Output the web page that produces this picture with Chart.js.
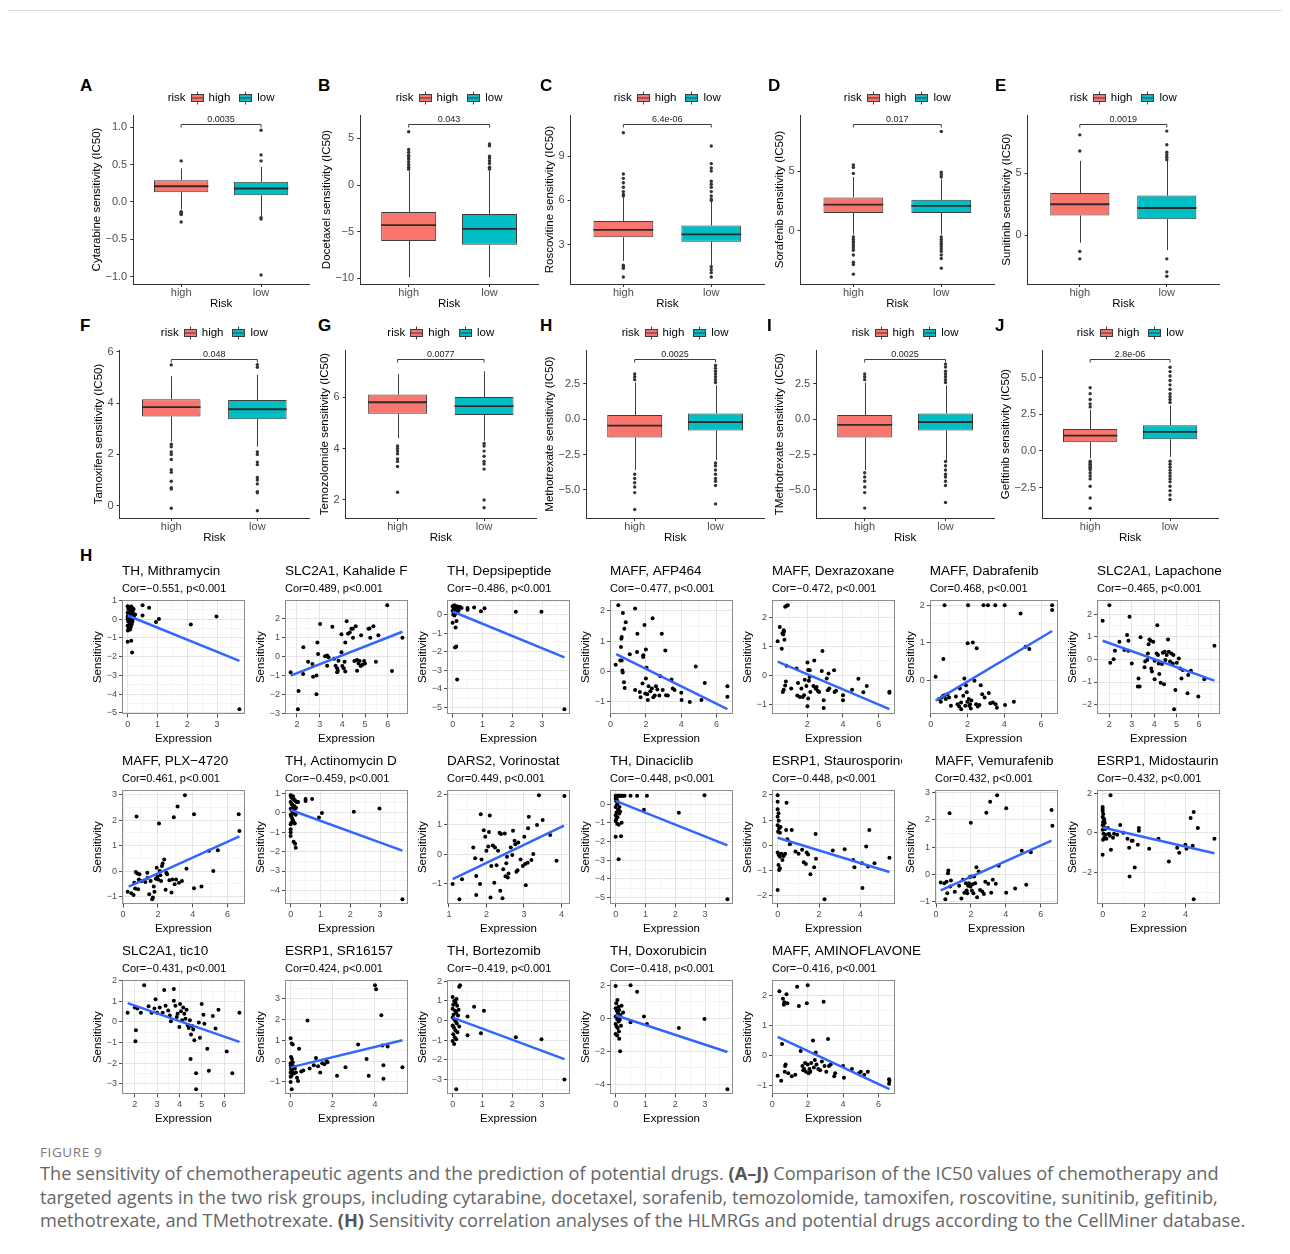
<!DOCTYPE html>
<html>
<head>
<meta charset="utf-8">
<script src="https://cdn.jsdelivr.net/npm/chart.js@4.4.1/dist/chart.umd.min.js"></script>
<style>
  html, body { margin: 0; padding: 0; background: #fff; }
  body { position: relative; width: 1290px; height: 1254px; overflow: hidden;
         font-family: "Liberation Sans", Arial, Helvetica, sans-serif; }
  canvas { position: absolute; }
  .rule { position: absolute; left: 8px; top: 10px; width: 1274px; height: 1px; background: #dcdcdc; }
  .tag { position: absolute; font-weight: bold; font-size: 17px; line-height: 17px; color: #000; }
  #figno { position: absolute; left: 40px; top: 1143px; font-family: "Open Sans", sans-serif;
           font-size: 13.5px; letter-spacing: 0.6px; color: #7a7a7a; }
  #caption { position: absolute; left: 40px; top: 1162px; font-family: "Open Sans", sans-serif;
             font-size: 18.2px; line-height: 23.5px; color: #666; white-space: nowrap; }
  #caption b { color: #555; font-weight: 700; }
</style>
</head>
<body>
<div class="rule"></div>
<div id="figno">FIGURE 9</div>
<div id="caption">The sensitivity of chemotherapeutic agents and the prediction of potential drugs. <b>(A–J)</b> Comparison of the IC50 values of chemotherapy and<br>targeted agents in the two risk groups, including cytarabine, docetaxel, sorafenib, temozolomide, tamoxifen, roscovitine, sunitinib, gefitinib,<br>methotrexate, and TMethotrexate. <b>(H)</b> Sensitivity correlation analyses of the HLMRGs and potential drugs according to the CellMiner database.</div>
<script>
// ---------- IC50 box plots (panels A–J) ----------
const boxLetters = ['A', 'B', 'C', 'D', 'E', 'F', 'G', 'H', 'I', 'J'];
const boxDrugs = ['Cytarabine', 'Docetaxel', 'Roscovitine', 'Sorafenib', 'Sunitinib',
                  'Tamoxifen', 'Temozolomide', 'Methotrexate', 'TMethotrexate', 'Gefitinib'];
const riskGroups = ['high', 'low'];
const pValues = ['0.0035', '0.043', '6.4e-06', '0.017', '0.0019', '0.048', '0.0077', '0.0025', '0.0025', '2.8e-06'];

// [lower whisker, Q1, median, Q3, upper whisker]
const highStats = [
  [-0.10, 0.13, 0.21, 0.29, 0.45], [-9.9, -6.0, -4.3, -2.9, 1.5], [1.9, 3.5, 4.0, 4.6, 6.2],
  [-0.3, 1.5, 2.2, 2.8, 4.5], [-0.6, 1.6, 2.5, 3.4, 6.0], [2.5, 3.48, 3.84, 4.15, 5.05],
  [4.4, 5.35, 5.8, 6.1, 6.9], [-3.6, -1.3, -0.45, 0.3, 2.6], [-3.6, -1.3, -0.4, 0.3, 2.6],
  [-0.5, 0.6, 1.05, 1.5, 2.8]
];
const lowStats = [
  [-0.19, 0.09, 0.18, 0.27, 0.47], [-9.9, -6.4, -4.7, -3.1, 1.5], [1.6, 3.2, 3.7, 4.3, 5.9],
  [-0.3, 1.5, 2.1, 2.6, 4.3], [-1.2, 1.3, 2.2, 3.2, 6.0], [2.3, 3.37, 3.76, 4.12, 5.1],
  [4.3, 5.3, 5.65, 6.0, 7.0], [-2.9, -0.8, -0.2, 0.4, 2.4], [-2.9, -0.8, -0.2, 0.4, 2.4],
  [-0.4, 0.8, 1.3, 1.75, 3.1]
];
const highOutliers = [
  [0.55, -0.13, -0.14, -0.15, -0.16, -0.17, -0.27],
  [1.7, 1.9, 2.2, 2.5, 2.8, 3.0, 3.2, 3.5, 3.8, 5.7],
  [6.3, 6.4, 6.6, 6.9, 7.2, 7.5, 7.8, 10.6, 1.6, 1.5, 1.4, 0.8],
  [4.8, 5.3, 5.5, -0.5, -0.7, -0.9, -1.0, -1.2, -1.4, -1.6, -2.0, -2.6, -2.8, -3.6],
  [6.8, 8.1, -1.3, -1.9],
  [5.49, 2.4, 2.3, 2.1, 2.0, 1.8, 1.4, 1.3, 0.95, 0.7, 0.65, -0.1],
  [4.1, 4.0, 3.9, 3.8, 3.6, 3.5, 3.3, 2.3],
  [2.8, 3.0, 3.2, -3.9, -4.2, -4.5, -4.8, -5.2, -6.4],
  [2.8, 3.0, 3.2, -3.8, -4.1, -4.4, -4.8, -5.2, -6.3],
  [3.0, 3.2, 3.5, 3.9, 4.3, -0.7, -0.8, -0.9, -1.0, -1.1, -1.2, -1.3, -1.5, -1.7, -1.9, -2.4, -3.2, -3.9]
];
const lowOutliers = [
  [0.55, 0.63, 0.96, -0.21, -0.23, -0.98],
  [1.7, 1.9, 2.3, 2.6, 2.9, 3.1, 4.2, 4.4],
  [6.0, 6.1, 6.3, 6.6, 6.9, 7.1, 7.3, 8.0, 8.2, 8.5, 9.7, 1.5, 1.3, 1.1, 0.8],
  [4.5, 4.7, 4.9, 8.3, -0.5, -0.7, -0.9, -1.1, -1.3, -1.5, -1.7, -2.0, -2.3, -3.1],
  [6.1, 6.3, 6.5, 6.7, 7.3, 8.4, -1.9, -2.95, -3.3],
  [5.4, 5.5, 2.1, 2.0, 1.7, 1.6, 1.1, 1.0, 0.85, 0.55, 0.5, -0.2],
  [4.2, 4.1, 3.9, 3.7, 3.5, 3.4, 3.2, 2.0, 1.7],
  [2.6, 2.8, 3.0, 3.2, 3.4, 3.6, 3.8, -3.1, -3.3, -3.6, -3.9, -4.2, -4.4, -4.7, -6.0],
  [2.6, 2.8, 3.0, 3.2, 3.4, 3.7, 3.9, -3.0, -3.3, -3.6, -3.9, -4.1, -4.4, -4.7, -5.9],
  [3.3, 3.5, 3.7, 3.9, 4.2, 4.5, 4.8, 5.1, 5.4, 5.7, -0.7, -0.9, -1.1, -1.3, -1.5, -1.7, -1.9, -2.1, -2.4, -2.7, -3.0, -3.3]
];
const boxYMin = [-1.10, -10.6, 0.33, -4.42, -3.93, -0.48, 1.3, -7.0, -7.0, -4.56];
const boxYMax = [1.165, 7.5, 11.8, 9.67, 9.70, 6.07, 7.83, 4.9, 4.9, 6.87];
const boxYStep = [0.5, 5, 3, 5, 5, 2, 2, 2.5, 2.5, 2.5];

// ---------- CellMiner correlation scatter plots ----------
const corrTitles = ['TH, Mithramycin', 'SLC2A1, Kahalide F', 'TH, Depsipeptide', 'MAFF, AFP464',
  'MAFF, Dexrazoxane', 'MAFF, Dabrafenib', 'SLC2A1, Lapachone', 'MAFF, PLX\u22124720',
  'TH, Actinomycin D', 'DARS2, Vorinostat', 'TH, Dinaciclib', 'ESRP1, Staurosporine',
  'MAFF, Vemurafenib', 'ESRP1, Midostaurin', 'SLC2A1, tic10', 'ESRP1, SR16157',
  'TH, Bortezomib', 'TH, Doxorubicin', 'MAFF, AMINOFLAVONE'];
const corrValues = [-0.551, 0.489, -0.486, -0.477, -0.472, 0.468, -0.465, 0.461, -0.459, 0.449,
  -0.448, -0.448, 0.432, -0.432, -0.431, 0.424, -0.419, -0.418, -0.416];
const xSteps = [1, 1, 1, 2, 2, 2, 1, 2, 1, 1, 1, 2, 2, 2, 1, 2, 1, 1, 2];
const ySteps = [1, 1, 1, 1, 1, 1, 1, 1, 1, 1, 1, 1, 1, 2, 1, 1, 1, 2, 1];
// fitted regression line end points [x0, y0, x1, y1]
const fitLines = [
  [0, 0.2, 3.75, -2.22], [1.72, -0.99, 6.65, 1.31], [0, 0.16, 3.75, -2.31], [0.32, 0.58, 6.61, -1.24],
  [0.34, 0.48, 6.6, -1.15], [0.27, -0.55, 6.6, 1.31], [1.7, 0.82, 6.69, -0.94], [0.32, -0.61, 6.68, 1.37],
  [0, 0.14, 3.75, -1.95], [1.1, -0.84, 4.07, 0.95], [0, 0.18, 3.75, -2.21], [0, 0.3, 5.39, -1.06],
  [0.26, -0.58, 6.62, 1.24], [0, 0.27, 5.4, -1.03], [1.68, 0.92, 6.69, -0.97], [0, -0.3, 5.3, 1.0],
  [0, 0.15, 3.75, -1.97], [0, 0.18, 3.75, -2.05], [0.3, 0.62, 6.62, -1.13]
];
// (expression, sensitivity) pairs per panel
const corrPoints = [
  [[0,0.7],[0.02,0.55],[0.05,0.65],[0.08,0.6],[0.1,0.45],[0.12,0.68],[0.15,0.62],[0.18,0.5],[0.2,0.55],[0,0.35],[0.03,0.3],[0.06,0.2],[0.09,0.25],[0.11,0.1],[0.14,0.3],[0.17,0.35],[0.22,0.2],[0.25,0.25],[0,0],[0.02,-0.1],[0.04,0.05],[0.07,-0.2],[0.1,-0.05],[0.13,0],[0.16,-0.1],[0.19,0.05],[0,-0.35],[0.03,-0.45],[0.05,-0.3],[0.08,-0.55],[0.11,-0.4],[0.14,-0.25],[0.01,-0.6],[0.06,-0.15],[0.09,0.12],[0,0.15],[0,-1.2],[0.12,-1.15],[0.15,-1.78],[0.5,0.75],[0.5,0.2],[0.72,0.62],[0.95,-0.15],[1.05,0.02],[2.12,-0.28],[2.98,0.15],[3.75,-4.8]],
  [[1.72,-0.82],[2.07,-1.79],[2.04,-2.75],[2.27,-0.9],[2.28,0.5],[2.49,-0.26],[2.68,-0.38],[2.71,-1.05],[2.86,-0.98],[2.86,-1.97],[2.9,0.75],[2.93,0.14],[3.02,1.72],[3.24,0.03],[3.33,0.07],[3.33,-0.47],[3.39,-0.03],[3.56,1.57],[3.64,-0.1],[3.7,-0.47],[3.77,-0.61],[3.77,-0.82],[3.83,-0.21],[3.8,-0.73],[3.96,1.18],[3.96,0.24],[4.0,-0.49],[4.06,-0.61],[4.1,-0.26],[4.13,0.75],[4.13,-0.78],[4.19,1.86],[4.25,1.2],[4.33,1.27],[4.4,1.46],[4.46,1.46],[4.47,0.99],[4.53,-0.23],[4.59,1.6],[4.65,-0.17],[4.65,-0.73],[4.71,-0.35],[4.76,-0.23],[4.83,1.13],[4.81,-0.49],[4.89,-0.42],[4.96,-0.23],[5.0,-0.35],[5.15,1.46],[5.2,1.48],[5.23,0.99],[5.37,1.6],[5.48,-0.26],[5.59,1.13],[6.19,-0.75],[5.98,2.7],[6.65,0.99]],
  [[0,0.45],[0.03,0.35],[0.06,0.5],[0.09,0.4],[0.12,0.3],[0.15,0.45],[0.18,0.35],[0.21,0.4],[0,0.2],[0.04,0.1],[0.08,0.25],[0.11,0.05],[0.14,0.15],[0.02,0],[0.06,-0.05],[0.1,0.3],[0.2,0.2],[0.25,0.4],[0.3,0.35],[0,-0.45],[0.1,-0.7],[0.13,-0.35],[0.08,-1.78],[0.12,-1.72],[0.15,-3.5],[0.5,0.25],[0.5,0.35],[0.72,0.38],[0.95,0.18],[1.07,0.33],[2.12,0.15],[2.98,0.15],[3.75,-5.1]],
  [[0.44,2.19],[0.29,0.23],[0.7,1.93],[0.59,0.81],[0.61,1.08],[0.63,1.14],[0.55,0.37],[0.63,0.37],[0.67,0.04],[0.69,-0.03],[0.76,-0.35],[0.8,-0.54],[0.78,1.41],[0.86,1.63],[1.09,0.57],[1.39,-0.61],[1.39,2.08],[1.5,0.65],[1.52,1.25],[1.66,-0.67],[1.7,-0.85],[1.81,-0.39],[1.85,0.54],[1.85,0.48],[1.92,1.54],[1.96,-0.72],[2.0,0.73],[2.0,-0.23],[2.04,0.13],[2.08,-0.75],[2.11,-0.94],[2.15,-0.48],[2.25,-0.65],[2.34,-0.56],[2.38,1.76],[2.42,-0.85],[2.5,-0.79],[2.57,-0.48],[2.65,-0.59],[2.76,-0.79],[2.82,-0.15],[2.9,1.25],[2.95,-0.61],[3.1,0.7],[3.14,-0.78],[3.24,-0.79],[3.45,-0.26],[3.52,-0.56],[3.62,-0.61],[4.0,-0.7],[4.02,-0.94],[4.48,-1.0],[4.82,0.17],[5.14,-0.94],[5.33,-0.38],[6.61,-0.48],[6.61,-0.83]],
  [[0.34,1.18],[0.46,1.66],[0.57,0.92],[0.61,1.45],[0.65,1.41],[0.68,1.55],[0.72,1.23],[0.7,1.5],[0.76,2.36],[0.84,2.39],[0.91,2.41],[0.63,-0.56],[0.68,-0.48],[0.76,-0.34],[0.8,-0.2],[0.84,0.34],[1.1,-0.44],[1.4,0.24],[1.48,-0.25],[1.44,-0.68],[1.58,-0.73],[1.67,-0.44],[1.75,-0.73],[1.82,-0.67],[1.86,-0.14],[1.95,-0.36],[2.01,0.45],[2.01,-1.05],[2.05,0.19],[2.05,-0.78],[2.09,-0.18],[2.14,0.18],[2.13,-0.05],[2.17,-0.56],[2.34,-0.36],[2.39,0.52],[2.47,-0.44],[2.52,-0.39],[2.58,-0.52],[2.66,-0.56],[2.81,0.16],[2.85,0.84],[2.92,-0.84],[2.92,-1.11],[3.09,-0.1],[3.19,0.07],[3.15,-0.5],[3.23,-0.44],[3.5,0.18],[3.53,-0.56],[3.61,-0.52],[4.0,-0.67],[4.0,-0.84],[4.51,-0.48],[4.86,-0.11],[5.14,-0.57],[5.33,-0.36],[6.6,-0.55],[6.6,-0.59]],
  [[0.27,0.09],[0.6,-0.47],[0.68,-0.42],[0.77,-0.41],[0.69,0.56],[0.75,2.0],[0.82,-0.51],[0.91,-0.38],[0.46,-0.51],[0.55,-0.58],[1.0,-0.47],[1.1,-0.69],[1.37,-0.44],[1.46,-0.65],[1.55,-0.71],[1.59,-0.23],[1.65,-0.6],[1.66,-0.78],[1.77,-0.42],[1.83,0.04],[1.88,-0.69],[1.92,-0.14],[1.96,-0.33],[1.99,-0.58],[2.01,0.98],[2.03,2.0],[2.07,-0.51],[2.1,-0.69],[2.14,-0.65],[2.18,-0.76],[2.21,-0.55],[2.29,1.0],[2.38,-0.02],[2.47,-0.65],[2.5,0.85],[2.56,-0.71],[2.65,-0.67],[2.72,-0.14],[2.8,-0.38],[2.87,2.0],[2.93,-0.47],[3.11,2.0],[3.16,-0.35],[3.24,-0.62],[3.38,-0.6],[3.51,2.0],[3.53,-0.65],[3.6,-0.74],[4.02,2.0],[4.04,-0.67],[4.52,-0.58],[4.88,1.78],[5.16,0.89],[5.36,0.83],[6.6,2.0],[6.6,1.87]],
  [[1.7,1.7],[2.0,2.39],[2.04,-0.15],[2.19,0.0],[2.25,0.38],[2.45,0.78],[2.67,0.41],[2.79,1.07],[2.85,0.82],[2.85,0.38],[2.9,1.88],[3.0,-0.18],[3.27,-1.2],[3.35,-1.2],[3.3,-0.84],[3.39,0.97],[3.57,-0.35],[3.6,-0.1],[3.69,-0.03],[3.72,0.26],[3.75,0.67],[3.79,0.88],[3.84,0.82],[3.87,-0.4],[3.9,-0.54],[3.96,0.78],[4.02,-0.06],[4.02,-0.88],[4.11,0.26],[4.14,1.51],[4.17,0.19],[4.2,-0.18],[4.23,-0.65],[4.29,-1.03],[4.35,-0.21],[4.39,0.29],[4.44,-1.1],[4.47,0.34],[4.5,-0.03],[4.56,0.19],[4.62,0.88],[4.65,0.34],[4.71,-0.1],[4.77,0.26],[4.83,-0.18],[4.86,0.19],[4.89,-2.2],[4.95,-1.35],[5.01,-0.15],[5.1,0.04],[5.16,-0.4],[5.22,-0.84],[5.28,-0.47],[5.49,-1.5],[5.52,-0.69],[5.64,-0.5],[5.97,-1.64],[6.24,-0.88],[6.69,0.6]],
  [[0.26,-0.82],[0.47,-0.88],[0.6,-0.94],[0.64,-0.46],[0.69,-0.69],[0.73,-0.04],[0.77,2.15],[0.81,-0.1],[0.86,-0.72],[0.9,-0.33],[0.94,-0.13],[1.07,-0.39],[1.28,-0.43],[1.39,-0.07],[1.41,-0.26],[1.5,-0.91],[1.58,-0.39],[1.67,-1.11],[1.71,-1.04],[1.76,-0.61],[1.8,-0.82],[1.88,-0.3],[1.93,0.13],[1.97,-0.22],[2.01,-0.33],[2.06,1.87],[2.1,0.0],[2.14,-0.17],[2.18,-0.39],[2.23,0.2],[2.27,0.3],[2.36,0.46],[2.44,-0.74],[2.48,-0.07],[2.53,-0.13],[2.66,-0.36],[2.78,-0.85],[2.83,-0.33],[2.91,2.12],[2.96,-0.52],[3.04,-0.33],[3.13,2.54],[3.21,-0.46],[3.38,-0.39],[3.55,2.99],[3.64,0.09],[4.07,2.24],[4.07,-0.68],[4.5,-0.61],[4.93,0.8],[5.18,0.0],[5.44,0.82],[6.64,2.24],[6.68,1.58]],
  [[0,0.9],[0.02,0.8],[0.05,0.75],[0.08,0.85],[0.1,0.7],[0.13,0.65],[0.16,0.6],[0.2,0.55],[0,0.55],[0.03,0.45],[0.06,0.4],[0.09,0.3],[0.12,0.35],[0.15,0.2],[0.18,0.25],[0,0.2],[0.04,0.1],[0.07,0.05],[0.1,0],[0.13,-0.05],[0.17,-0.1],[0,-0.1],[0.02,-0.2],[0.05,-0.3],[0.08,-0.4],[0.11,-0.5],[0.14,-0.55],[0,-0.6],[0.03,-0.5],[0.06,0.15],[0,-0.85],[0,-1.0],[0,-1.2],[0.1,-1.5],[0.15,-1.6],[0.17,-1.8],[0.25,0.55],[0.5,0.6],[0.5,0.7],[0.72,0.7],[0.95,-0.25],[1.05,-0.02],[2.12,0.05],[2.98,0.22],[3.75,-4.45]],
  [[1.1,-1.0],[1.28,-1.51],[1.35,-0.84],[1.65,0.22],[1.7,-0.14],[1.73,-0.73],[1.73,-1.37],[1.83,-1.0],[1.85,1.33],[1.87,-0.18],[1.93,0.8],[1.97,0.58],[2.0,0.11],[2.05,0.25],[2.07,0.74],[2.09,1.29],[2.11,-1.45],[2.13,-0.4],[2.17,0.29],[2.21,-0.96],[2.23,0.22],[2.27,-0.37],[2.31,0.11],[2.35,0.71],[2.39,0.67],[2.37,-1.23],[2.43,-1.48],[2.45,-0.51],[2.49,0.69],[2.51,-0.74],[2.53,-0.31],[2.55,-0.09],[2.57,-0.78],[2.59,-0.65],[2.65,0.22],[2.69,-0.03],[2.71,0.78],[2.75,0.45],[2.77,0.33],[2.8,-0.59],[2.83,-0.54],[2.85,0.39],[2.91,-0.18],[2.97,-0.4],[3.01,0.58],[3.03,-0.33],[3.05,-1.04],[3.1,-0.29],[3.11,0.86],[3.13,1.25],[3.2,-0.2],[3.25,0.0],[3.35,0.97],[3.4,1.97],[3.5,1.14],[3.7,0.64],[3.87,-0.22],[4.08,1.94]],
  [[0,0.45],[0.03,0.45],[0.06,0.45],[0.09,0.45],[0.12,0.45],[0.15,0.45],[0.18,0.45],[0.21,0.45],[0.25,0.45],[0.3,0.45],[0.5,0.45],[0.72,0.45],[1.05,0.45],[0,0.3],[0.02,0.15],[0.05,0],[0,-0.15],[0.08,-0.3],[0.03,-0.45],[0.1,-0.35],[0.12,-0.5],[0,-0.6],[0.06,-0.7],[0.15,-0.4],[0,-0.9],[0.05,-1.05],[0.1,-1.1],[0.2,-1.0],[0.04,0.25],[0.08,0.1],[0.13,-0.15],[0.02,-0.8],[0,-1.75],[0.18,-1.72],[0.1,-2.95],[0.95,-0.3],[2.12,-0.46],[2.98,0.48],[3.75,-5.1]],
  [[0,1.99],[0,1.73],[0,1.43],[0.04,1.27],[0,1.13],[0.05,0.98],[0,0.8],[0.07,0.67],[0.02,0.54],[0.11,0.5],[0.14,0.73],[0,-0.29],[0.05,-0.38],[0.11,-0.45],[0.18,-0.34],[0.04,-0.78],[0.11,-0.91],[0.07,-0.98],[0,-1.77],[0.23,-0.58],[0.29,-0.42],[0.36,-0.34],[0.41,0.61],[0.43,1.69],[0.47,0.24],[0.59,0.04],[0.68,0.61],[0.86,-0.25],[1.01,-0.34],[1.18,-0.18],[1.26,-0.67],[1.36,-0.74],[1.4,-0.29],[1.47,-0.36],[1.58,-1.15],[1.76,-0.87],[1.83,0.45],[1.85,-0.53],[2.26,-2.14],[2.66,-0.21],[3.23,-0.16],[3.64,-0.58],[3.7,-0.87],[4.06,-0.71],[4.09,-1.7],[4.27,-0.05],[4.36,-0.84],[4.42,0.61],[4.67,-0.71],[5.39,-0.49]],
  [[0.26,-0.29],[0.47,-0.32],[0.53,-0.9],[0.6,-0.26],[0.64,-0.68],[0.68,0.05],[0.7,0.15],[0.77,2.24],[0.81,-0.44],[0.85,-0.22],[1.07,-0.63],[1.32,-0.41],[1.45,-0.87],[1.54,-0.19],[1.62,-0.66],[1.71,-0.32],[1.75,-0.58],[1.79,-0.68],[1.84,-0.41],[1.88,-0.32],[1.92,-0.1],[1.97,-0.44],[1.99,1.89],[2.03,-0.07],[2.05,-0.58],[2.09,-0.35],[2.14,-0.68],[2.18,-0.07],[2.24,-0.32],[2.31,0.27],[2.35,-0.83],[2.44,0.11],[2.52,-0.56],[2.65,-0.62],[2.74,-0.71],[2.82,-0.26],[2.88,2.26],[2.99,-0.34],[3.1,2.66],[3.16,-0.66],[3.25,-0.19],[3.42,-0.34],[3.5,2.9],[3.59,0.32],[4.02,2.42],[4.02,-0.66],[4.53,-0.51],[4.91,0.87],[5.17,-0.37],[5.43,0.82],[6.62,2.36],[6.67,1.78]],
  [[0,1.3],[0,1.2],[0,1.1],[0.03,0.95],[0,0.8],[0.05,0.72],[0.08,0.65],[0.02,0.55],[0.1,0.5],[0,0.4],[0.06,0.3],[0.12,0.2],[0,0.15],[0.04,-0.05],[0.15,-0.1],[0.08,-0.25],[0.02,-0.35],[0,-1.1],[0.18,-0.3],[0.25,0.25],[0.3,-0.05],[0.35,-0.15],[0.38,1.9],[0.4,-0.85],[0.5,-0.25],[0.55,-0.05],[0.7,-0.1],[0.85,0.4],[1.0,0.0],[1.2,-0.3],[1.28,-0.75],[1.3,-2.2],[1.4,-0.4],[1.45,-0.4],[1.55,-1.75],[1.7,-0.6],[1.75,0.25],[1.75,0.1],[2.25,-0.8],[2.7,-0.3],[3.2,-1.45],[3.6,-0.75],[3.7,-1.0],[4.0,-0.6],[4.05,-0.8],[4.25,0.75],[4.35,-0.65],[4.4,1.05],[4.4,-3.35],[4.6,0.25],[5.4,-0.3]],
  [[1.68,0.45],[2.0,0.71],[2.05,-0.4],[2.03,-0.94],[2.12,0.66],[2.27,0.45],[2.42,1.79],[2.62,0.76],[2.75,0.45],[2.88,0.66],[2.93,1.11],[3.0,0.45],[3.12,0.71],[3.25,0.45],[3.32,1.56],[3.38,0.79],[3.5,0.56],[3.57,0.32],[3.62,0.03],[3.75,1.6],[3.75,1.03],[3.82,0.79],[3.88,0.24],[3.92,0.4],[4.0,-0.24],[4.03,0.87],[4.07,0.52],[4.12,0.08],[4.17,0.71],[4.22,0.4],[4.27,0.16],[4.32,0.6],[4.37,-0.16],[4.42,-0.29],[4.47,0.08],[4.5,-1.8],[4.52,-0.61],[4.57,-0.2],[4.62,-0.37],[4.67,-0.89],[4.75,-2.5],[4.75,-3.27],[4.87,-0.03],[4.92,-0.77],[5.0,0.87],[5.08,0.35],[5.12,-0.08],[5.25,-1.3],[5.32,-2.37],[5.5,0.29],[5.62,-0.32],[5.75,0.6],[6.12,-1.43],[6.37,-2.5],[6.69,0.45]],
  [[0,-0.1],[0,-0.2],[0.02,-0.3],[0.05,-0.15],[0.03,-0.4],[0,-0.55],[0.08,-0.5],[0,-0.75],[0.04,-0.7],[0.1,-0.05],[0.06,0.1],[0.02,0.2],[0,-1.0],[0.05,-1.35],[0,1.1],[0.05,0.85],[0.1,0.8],[0.12,-0.25],[0.15,-0.6],[0.2,-0.35],[0.25,-0.55],[0.3,-0.8],[0.35,-0.95],[0.4,0.6],[0.5,-0.5],[0.6,-0.45],[0.8,1.95],[0.9,-0.35],[1.1,-0.2],[1.2,0.15],[1.3,-0.25],[1.4,-0.55],[1.5,-0.1],[1.6,-0.15],[1.7,0.0],[1.75,-0.05],[2.2,-0.7],[2.6,-0.3],[3.2,0.8],[3.6,0.1],[3.7,-0.7],[4.0,3.65],[4.05,3.45],[4.3,2.2],[4.35,0.75],[4.4,-0.2],[4.4,-0.85],[4.6,0.7],[5.3,-0.3]],
  [[0,1.2],[0.05,1.0],[0.1,0.9],[0.02,0.8],[0.15,0.75],[0,0.6],[0.08,0.5],[0.12,0.4],[0.03,0.3],[0.18,0.25],[0,0.15],[0.06,0.05],[0.1,-0.05],[0.14,-0.15],[0,-0.25],[0.04,-0.35],[0.09,-0.5],[0.16,-0.6],[0.02,-0.7],[0.07,-0.85],[0.12,-0.95],[0,-1.05],[0.05,-1.2],[0.2,0.55],[0.22,-0.3],[0.13,1.1],[0.25,1.8],[0.22,1.72],[0.12,-3.5],[0.5,0.2],[0.5,-0.75],[0.72,0.7],[0.95,-0.65],[1.05,0.5],[2.12,-0.85],[2.98,-0.95],[3.75,-3.0]],
  [[0,1.95],[0.02,0.9],[0.06,1.1],[0.1,0.7],[0,0.6],[0.04,0.45],[0.08,0.3],[0.12,0.5],[0.16,0.2],[0,0.1],[0.05,-0.05],[0.1,-0.2],[0.14,-0.1],[0,-0.35],[0.03,-0.5],[0.07,-0.6],[0.11,-0.8],[0,-0.95],[0.05,-1.05],[0.12,-1.25],[0.15,-2.0],[0.2,0.75],[0.25,0.35],[0.18,-0.45],[0.5,2.0],[0.5,-0.25],[0.72,1.6],[0.95,0.1],[1.05,-0.35],[2.12,-0.6],[2.98,-0.05],[3.75,-4.3]],
  [[0.3,-0.68],[0.4,2.15],[0.5,-0.85],[0.55,0.38],[0.6,1.9],[0.65,1.7],[0.68,1.78],[0.7,-0.55],[0.72,-0.35],[0.75,-0.3],[0.8,2.05],[0.85,1.75],[0.9,-0.6],[1.1,-0.7],[1.3,-0.65],[1.4,2.3],[1.5,1.65],[1.6,0.15],[1.7,-0.35],[1.75,-0.5],[1.8,-0.45],[1.85,-0.25],[1.9,-0.55],[1.95,1.75],[2.0,2.35],[2.0,-0.3],[2.05,-0.6],[2.1,-0.45],[2.15,-0.55],[2.2,-0.25],[2.3,0.5],[2.35,-0.4],[2.4,-0.15],[2.45,0.1],[2.5,-0.3],[2.6,-0.45],[2.7,-0.5],[2.8,-0.2],[2.9,1.8],[2.95,-0.35],[3.05,-0.55],[3.15,0.55],[3.2,-0.35],[3.3,-0.3],[3.5,-0.7],[3.55,-0.6],[4.0,-0.35],[4.05,-0.75],[4.5,-0.45],[4.9,-0.6],[5.0,-0.55],[5.2,-0.65],[5.4,-0.55],[6.6,-0.95],[6.6,-0.8],[6.62,-0.85]]
];

// ---------- styling & layout ----------
const FONT = '"Liberation Sans", Arial, Helvetica, sans-serif';
const riskColors = ['#F8766D', '#00BFC4'];
const INK = '#3d3d3d';
Chart.defaults.font.family = FONT;
Chart.defaults.animation = false;
Chart.defaults.responsive = false;
Chart.defaults.devicePixelRatio = 1;
Chart.defaults.plugins.legend.display = false;
Chart.defaults.plugins.tooltip.enabled = false;

// box panels: [y-title centre x, right end of x axis, row]
const boxFrames = [
  [96.7, 313, 0], [326.7, 542, 0], [550, 768, 0], [780, 998, 0], [1006.7, 1223, 0],
  [98.3, 313, 1], [325, 540, 1], [550, 768, 1], [780, 998, 1], [1006, 1222, 1]
];
const boxRowTop = [115, 350];
const boxRowBottom = [284, 518];
const tagPos = [[80, 85], [318, 85], [540, 85], [768, 85], [995, 85],
                [80, 325], [318, 325], [540, 325], [767, 325], [995, 325]];

function addCanvas(left, top, w, h) {
  const c = document.createElement('canvas');
  c.width = w; c.height = h;
  c.style.left = left + 'px'; c.style.top = top + 'px';
  c.style.width = w + 'px'; c.style.height = h + 'px';
  document.body.appendChild(c);
  return c;
}
function addTag(text, x, yc) {
  const d = document.createElement('div');
  d.className = 'tag'; d.textContent = text;
  d.style.left = x + 'px'; d.style.top = (yc - 8.5) + 'px';
  document.body.appendChild(d);
}
const fmt = (v, d) => (v < -1e-9 ? '\u2212' : '') + Math.abs(v).toFixed(d);
function majorTicks(min, max, step) {
  const t = [];
  for (let k = Math.ceil(min / step - 1e-9); k * step <= max + 1e-9; k++) t.push({ value: +(k * step).toFixed(6) });
  return t;
}
function gridTicks(min, max, step) {
  const half = step / 2, t = [];
  for (let k = Math.ceil(min / half - 1e-9); k * half <= max + 1e-9; k++) {
    t.push({ value: +(k * half).toFixed(6), minor: k % 2 !== 0 });
  }
  return t;
}
function paddedRange(vals) {
  const lo = Math.min(...vals), hi = Math.max(...vals), pad = (hi - lo) * 0.05;
  return [lo - pad, hi + pad];
}
function line(ctx, x0, y0, x1, y1) { ctx.beginPath(); ctx.moveTo(x0, y0); ctx.lineTo(x1, y1); ctx.stroke(); }

// whiskers, medians, significance bracket and group legend of a box panel
function boxDecor(i) {
  const stats = [highStats[i], lowStats[i]];
  return {
    id: 'boxDecor',
    beforeDatasetsDraw(chart) {
      const { ctx, scales: { x, y } } = chart;
      ctx.save(); ctx.strokeStyle = INK; ctx.lineWidth = 1;
      stats.forEach((s, k) => {
        const px = Math.round(x.getPixelForValue(k + 1)) + 0.5;
        line(ctx, px, y.getPixelForValue(s[0]), px, y.getPixelForValue(s[1]));
        line(ctx, px, y.getPixelForValue(s[3]), px, y.getPixelForValue(s[4]));
      });
      ctx.restore();
    },
    afterDatasetsDraw(chart) {
      const { ctx, scales: { x, y }, chartArea: a } = chart;
      const bars = chart.getDatasetMeta(0).data;
      ctx.save();
      ctx.strokeStyle = '#2b2b2b'; ctx.lineWidth = 1.8;
      stats.forEach((s, k) => {
        const b = bars[k], py = y.getPixelForValue(s[2]);
        line(ctx, b.x - b.width / 2, py, b.x + b.width / 2, py);
      });
      // comparison bracket
      const x1 = x.getPixelForValue(1), x2 = x.getPixelForValue(2), by = Math.round(a.top + 9) + 0.5;
      ctx.strokeStyle = INK; ctx.lineWidth = 1;
      ctx.beginPath(); ctx.moveTo(x1, by + 3); ctx.lineTo(x1, by); ctx.lineTo(x2, by); ctx.lineTo(x2, by + 3); ctx.stroke();
      ctx.fillStyle = '#222'; ctx.font = '9px ' + FONT; ctx.textAlign = 'center'; ctx.textBaseline = 'bottom';
      ctx.fillText(pValues[i], (x1 + x2) / 2, by - 0.5);
      // legend: risk [key] high [key] low
      ctx.font = '11.5px ' + FONT; ctx.textAlign = 'left'; ctx.textBaseline = 'middle';
      const ly = a.top - 17, keyW = 13, keyH = 8, gap = 5;
      let total = ctx.measureText('risk').width + gap;
      riskGroups.forEach((g, k) => { total += keyW + gap + ctx.measureText(g).width + (k < riskGroups.length - 1 ? 9 : 0); });
      let lx = (a.left + a.right) / 2 - total / 2;
      ctx.fillStyle = '#000'; ctx.fillText('risk', lx, ly);
      lx += ctx.measureText('risk').width + gap;
      riskGroups.forEach((g, k) => {
        const kx = Math.round(lx);
        ctx.strokeStyle = INK; ctx.lineWidth = 1;
        line(ctx, kx + keyW / 2, ly - keyH / 2 - 2.5, kx + keyW / 2, ly + keyH / 2 + 2.5);
        ctx.fillStyle = riskColors[k]; ctx.fillRect(kx, ly - keyH / 2, keyW, keyH);
        ctx.strokeRect(kx + 0.5, ly - keyH / 2 + 0.5, keyW - 1, keyH - 1);
        line(ctx, kx, ly, kx + keyW, ly);
        lx += keyW + gap;
        ctx.fillStyle = '#000'; ctx.fillText(g, lx, ly);
        lx += ctx.measureText(g).width + 9;
      });
      ctx.restore();
    }
  };
}

boxDrugs.forEach((drug, i) => {
  const [tc, rightEnd, row] = boxFrames[i];
  const left = Math.round(tc - 5.75), top = boxRowTop[row] - 35;
  const w = rightEnd - left, h = boxRowBottom[row] + 26 - top;
  const step = boxYStep[i], dec = step % 1 !== 0 ? 1 : 0;
  const outliers = highOutliers[i].map(v => ({ x: 1, y: v })).concat(lowOutliers[i].map(v => ({ x: 2, y: v })));
  addTag(boxLetters[i], tagPos[i][0], tagPos[i][1]);
  new Chart(addCanvas(left, top, w, h), {
    type: 'bar',
    data: {
      datasets: [
        { type: 'bar', data: [highStats[i], lowStats[i]].map((s, k) => ({ x: k + 1, y: [s[1], s[3]] })),
          backgroundColor: riskColors, borderColor: INK, borderWidth: 1, borderSkipped: false,
          categoryPercentage: 0.8, barPercentage: 0.85 },
        { type: 'scatter', data: outliers, backgroundColor: '#333', borderWidth: 0, pointRadius: 1.7 }
      ]
    },
    options: {
      layout: { padding: { top: 35, right: 0, bottom: 0, left: 0 } },
      scales: {
        x: {
          type: 'linear', min: 0.4, max: 2.6, bounds: 'data', offset: false,
          afterBuildTicks: s => { s.ticks = riskGroups.map((g, k) => ({ value: k + 1 })); },
          ticks: { callback: v => riskGroups[Math.round(v) - 1], font: { size: 11, lineHeight: 1 },
                   color: '#4d4d4d', padding: 0, autoSkip: false, maxRotation: 0 },
          grid: { display: true, drawOnChartArea: false, drawTicks: true, tickLength: 3, tickColor: '#333', offset: false },
          border: { display: true, color: '#333', width: 1 },
          title: { display: true, text: 'Risk', font: { size: 11.5, lineHeight: 1 }, color: '#000', padding: { top: 0.5, bottom: 0 } }
        },
        y: {
          type: 'linear', min: boxYMin[i], max: boxYMax[i], bounds: 'data',
          afterBuildTicks: s => { s.ticks = majorTicks(s.min, s.max, step); },
          ticks: { callback: v => fmt(v, dec), font: { size: 11 }, color: '#4d4d4d', padding: 3, autoSkip: false },
          grid: { display: true, drawOnChartArea: false, drawTicks: true, tickLength: 3, tickColor: '#333' },
          border: { display: true, color: '#333', width: 1 },
          title: { display: true, text: drug + ' sensitivity (IC50)', font: { size: 11.5, lineHeight: 1 },
                   color: '#000', padding: { top: 0, bottom: 0 } }
        }
      }
    },
    plugins: [boxDecor(i)]
  });
});

// ---------- correlation panels ----------
addTag('H', 80, 555);
function corrAxis(range, step, label) {
  return {
    type: 'linear', min: range[0], max: range[1], bounds: 'data',
    afterBuildTicks: s => { s.ticks = gridTicks(range[0], range[1], step); },
    ticks: { callback: (v, k, t) => (t[k] && t[k].minor) ? '' : fmt(v, 0), font: { size: 9, lineHeight: 1.2 },
             color: '#4d4d4d', padding: 2, autoSkip: false, maxRotation: 0 },
    grid: {
      color: c => (c.tick && c.tick.minor) ? '#f4f4f4' : '#e5e5e5',
      tickColor: c => (c.tick && c.tick.minor) ? 'rgba(0,0,0,0)' : '#4d4d4d',
      lineWidth: 1, tickLength: 3, drawTicks: true
    },
    border: { display: false },
    title: { display: true, text: label, font: { size: 11.5, lineHeight: 1.2 }, color: '#000', padding: { top: 0, bottom: 0 } }
  };
}
function corrDecor(title, sub) {
  return {
    id: 'corrDecor',
    afterDraw(chart) {
      const { ctx, chartArea: a } = chart;
      ctx.save();
      ctx.strokeStyle = '#8c8c8c'; ctx.lineWidth = 1;
      ctx.strokeRect(Math.round(a.left) + 0.5, Math.round(a.top) + 0.5,
                     Math.round(a.right) - Math.round(a.left) - 1, Math.round(a.bottom) - Math.round(a.top) - 1);
      ctx.fillStyle = '#000'; ctx.textAlign = 'left'; ctx.textBaseline = 'middle';
      ctx.font = '13.5px ' + FONT; ctx.fillText(title, a.left, 11.7);
      ctx.font = '11px ' + FONT; ctx.fillText(sub, a.left, 29);
      ctx.restore();
    }
  };
}
corrTitles.forEach((title, i) => {
  const r = Math.floor(i / 7), c = i % 7;
  const x0 = 90 + 162.5 * c, y0 = 555 + 190 * r;
  const extra = (i === corrTitles.length - 1) ? 40 : 0;
  const pts = corrPoints[i], fit = fitLines[i];
  const xr = paddedRange(pts.map(p => p[0]).concat([fit[0], fit[2]]));
  const yr = paddedRange(pts.map(p => p[1]).concat([fit[1], fit[3]]));
  const sub = 'Cor=' + fmt(corrValues[i], 3) + ', p<0.001';
  new Chart(addCanvas(Math.round(x0 + 1.4), Math.round(y0 + 5), 161 + extra, 186), {
    type: 'scatter',
    data: {
      datasets: [
        { type: 'line', data: [{ x: fit[0], y: fit[1] }, { x: fit[2], y: fit[3] }], borderColor: '#3366FF',
          borderWidth: 2.5, pointRadius: 0, fill: false, tension: 0, order: 0 },
        { type: 'scatter', data: pts.map(([x, y]) => ({ x, y })), backgroundColor: '#000', borderWidth: 0,
          pointRadius: 2, order: 1 }
      ]
    },
    options: {
      layout: { padding: { top: 40, right: 7 + extra, bottom: 0, left: 0 } },
      scales: { x: corrAxis(xr, xSteps[i], 'Expression'), y: corrAxis(yr, ySteps[i], 'Sensitivity') }
    },
    plugins: [corrDecor(title, sub)]
  });
});
</script>
</body>
</html>
